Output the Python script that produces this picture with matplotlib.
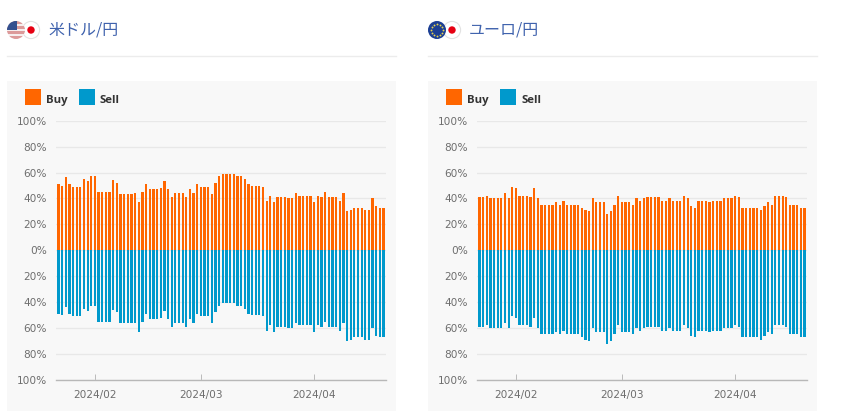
import numpy as np
import pandas as pd
import matplotlib
matplotlib.use("Agg")
import matplotlib.pyplot as plt
from matplotlib.patches import Circle, Rectangle

W, H = 847, 411

# daily buy/sell ratios
usd_buy = [51, 50, 56.5, 51, 49, 49, 49, 55, 53.5, 57, 57, 45, 45, 45, 45, 54, 52, 43.5, 43.5, 43.5, 43.5, 44, 37, 45, 51,
           47, 47, 47, 48, 53.5, 47, 41, 44, 44, 44, 41, 47, 44, 51, 49, 49, 49, 43.5, 52, 57,
           59, 59, 59, 59, 57, 57, 55, 51, 50, 50, 50, 49, 38, 42, 37, 41, 41, 41, 40, 40, 44, 42, 42, 42, 42,
           37, 42, 41, 45, 41, 41, 41, 38, 44, 30, 31, 33, 33, 33, 31, 31, 40, 34, 33, 33]
usd_sell = [49, 50, 43.5, 49, 51, 51, 51, 45, 46.5, 43, 43, 55, 55, 55, 55, 46, 48, 56.5, 56.5, 56.5, 56.5, 56, 63, 55, 49,
            53, 53, 53, 52, 46.5, 53, 59, 56, 56, 56, 59, 53, 56, 49, 51, 51, 51, 56.5, 48, 43,
            41, 41, 41, 41, 43, 43, 45, 49, 50, 50, 50, 51, 62, 58, 63, 59, 59, 59, 60, 60, 56, 58, 58, 58, 58,
            63, 58, 59, 55, 59, 59, 59, 62, 56, 70, 69, 67, 67, 67, 69, 69, 60, 66, 67, 67]
eur_buy = [41, 41, 42, 40, 40, 40, 40, 44, 40, 49, 48, 42, 42, 42, 41, 48, 40, 35, 35, 35, 35, 37, 35, 38,
           35, 35, 35, 35, 33, 31, 30, 40, 37, 37, 37, 28, 30, 35, 42, 37, 37, 37, 35, 40, 38, 40,
           41, 41, 41, 41, 38, 38, 40, 38, 38, 38, 42, 40, 34, 33, 38, 38, 38, 37, 38, 38, 38, 40, 40, 40,
           42, 41, 33, 33, 33, 33, 33, 31, 34, 37, 35, 42, 42, 42, 41, 35, 35, 35, 33, 33]
eur_sell = [59, 59, 58, 60, 60, 60, 60, 56, 60, 51, 52, 58, 58, 58, 59, 52, 60, 65, 65, 65, 65, 63, 65, 62,
            65, 65, 65, 65, 67, 69, 70, 60, 63, 63, 63, 72, 70, 65, 58, 63, 63, 63, 65, 60, 62, 60,
            59, 59, 59, 59, 62, 62, 60, 62, 62, 62, 58, 60, 66, 67, 62, 62, 62, 63, 62, 62, 62, 60, 60, 60,
            58, 59, 67, 67, 67, 67, 67, 69, 66, 63, 65, 58, 58, 58, 59, 65, 65, 65, 67, 67]
y_ticks = [100, 80, 60, 40, 20, 0, -20, -40, -60, -80, -100]
x_ticks = ["2024-02-01", "2024-03-01", "2024-04-01"]
titles = ["米ドル/円", "ユーロ/円"]

ORANGE = "#ff6600"
BLUE = "#0099cc"
TICK = "#6e6e6e"
LABEL_FONT = ["Noto Sans CJK JP", "DejaVu Sans"]


def draw_chart(fig, left, buy, sell):
    # left is the pixel edge of the grey panel
    x0, x1 = left + 49, left + 379
    ax = fig.add_axes([x0 / W, 1 - 379.8 / H, (x1 - x0) / W, 259 / H])
    ax.patch.set_alpha(0)
    dates = pd.date_range("2024-01-22", periods=len(buy))
    ax.bar(dates, buy, width=0.62, color=ORANGE, zorder=3, antialiased=False)
    ax.bar(dates, [-v for v in sell], width=0.62, color=BLUE, zorder=3, antialiased=False)
    ax.set_xlim(dates[0] - pd.Timedelta(hours=16), dates[-1] + pd.Timedelta(hours=16))
    ax.set_ylim(-100, 100)
    ax.set_yticks(y_ticks)
    ax.set_yticklabels([f"{abs(t)}%" for t in y_ticks])
    ticks = pd.to_datetime(x_ticks)
    ax.set_xticks(ticks)
    ax.set_xticklabels([t.strftime("%Y/%m") for t in ticks])
    ax.tick_params(axis="y", length=0, pad=6.5, labelsize=7.6, labelcolor=TICK)
    ax.tick_params(axis="x", direction="in", length=4, width=0.7, color="#bbbbbb",
                   pad=7, labelsize=7.6, labelcolor=TICK)
    ax.grid(axis="y", color="#e8e8e8", lw=0.9, zorder=0)
    for name in ["top", "left", "right"]:
        ax.spines[name].set_visible(False)
    ax.spines["bottom"].set_color("#b8b8b8")
    ax.spines["bottom"].set_linewidth(1)


def draw_frame(bg, left, title):
    bg.add_patch(Rectangle((left, 81), 389, 330, color="#f8f8f8", lw=0))
    bg.plot([left, left + 389], [56.5, 56.5], color="#ececec", lw=1)
    bg.text(left + 41, 30, title, color="#3f62ad", fontsize=11.5, va="center",
            family=LABEL_FONT)
    bg.add_patch(Rectangle((left + 18, 89), 16, 16, color=ORANGE, lw=0))
    bg.add_patch(Rectangle((left + 72, 89), 16, 16, color=BLUE, lw=0))
    bg.text(left + 39, 100, "Buy", color="#333333", fontsize=8.2, va="center",
            family="Open Sans", weight="bold")
    bg.text(left + 93, 100, "Sell", color="#333333", fontsize=8.2, va="center",
            family="Open Sans", weight="bold")


def draw_japan(bg, cx, cy):
    bg.add_patch(Circle((cx, cy), 8.6, fc="white", ec="#e2e2e2", lw=0.8, zorder=2))
    bg.add_patch(Circle((cx, cy), 3.7, fc="#e60012", lw=0, zorder=3))


def draw_us(bg, cx, cy):
    clip = Circle((cx, cy), 9, transform=bg.transData)
    for i in range(7):
        color = "#dc9a9a" if i % 2 == 0 else "#f6eeee"
        stripe = Rectangle((cx - 9, cy - 9 + i * 18 / 7), 18, 18 / 7, color=color, lw=0, zorder=4)
        bg.add_patch(stripe)
        stripe.set_clip_path(clip)
    canton = Rectangle((cx - 9, cy - 9), 10, 9, color="#34508f", lw=0, zorder=5)
    bg.add_patch(canton)
    canton.set_clip_path(clip)


def draw_eu(bg, cx, cy):
    bg.add_patch(Circle((cx, cy), 9, fc="#1c3f94", lw=0, zorder=4))
    angles = np.arange(12) * np.pi / 6
    bg.scatter(cx + 5.8 * np.cos(angles), cy + 5.8 * np.sin(angles), s=1.8,
               color="#e8d44d", lw=0, zorder=5)


fig = plt.figure(figsize=(W / 100, H / 100), dpi=100)

bg = fig.add_axes([0, 0, 1, 1])
bg.set_xlim(0, W)
bg.set_ylim(H, 0)
bg.axis("off")

draw_frame(bg, 7, titles[0])
draw_frame(bg, 428, titles[1])
draw_japan(bg, 31, 30)
draw_us(bg, 16, 30)
draw_japan(bg, 452, 30)
draw_eu(bg, 437, 30)

draw_chart(fig, 7, usd_buy, usd_sell)
draw_chart(fig, 428, eur_buy, eur_sell)

fig.savefig("out.png", dpi=100)
plt.close(fig)
